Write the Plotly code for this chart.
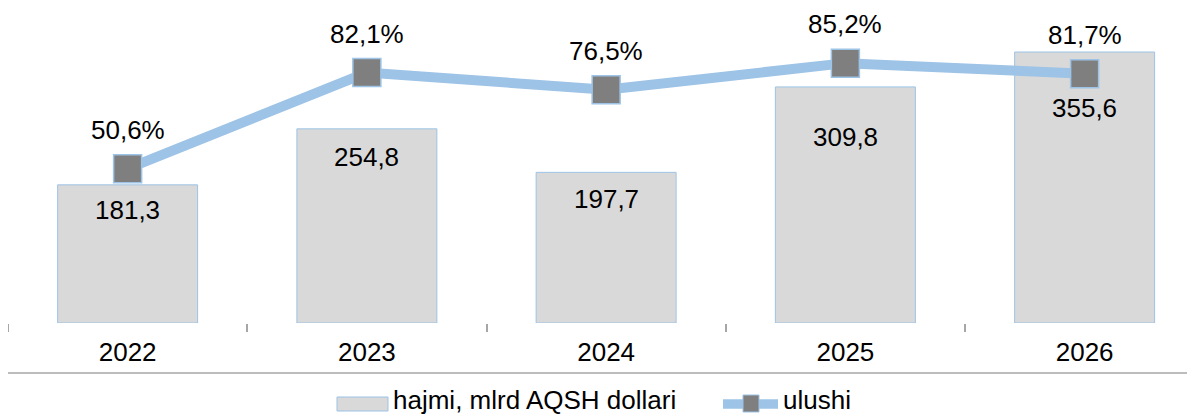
import plotly.graph_objects as go

years = ["2022", "2023", "2024", "2025", "2026"]
volume = [181.3, 254.8, 197.7, 309.8, 355.6]
share = [50.6, 82.1, 76.5, 85.2, 81.7]

# label offsets (px) below bar tops, Excel nudged them around the markers
bar_label_shift = [-25, -28, -27, -50, -56]

FONT = "Liberation Sans, Arial, sans-serif"
BLUE = "#9dc3e6"
GREY_BAR = "#d9d9d9"
GREY_MK = "#7f7f7f"
FS = 26

# the html body has an 8px margin, so the figure is drawn 8px smaller
W, H = 1187, 408
PLOT_H = 313


def fmt(v):
    return f"{v:.1f}".replace(".", ",")


def px(sx):  # screen x -> paper
    return (sx - 8) / W


def py(sy):  # screen y -> paper (plot spans screen y 10..323)
    return (323 - sy) / PLOT_H


fig = go.Figure()
fig.add_trace(go.Bar(
    x=years, y=volume, name="hajmi, mlrd AQSH dollari",
    marker=dict(color=GREY_BAR, line=dict(color=BLUE, width=1)),
    width=0.585,
))
fig.add_trace(go.Scatter(
    x=years, y=share, name="ulushi", yaxis="y2",
    mode="lines+markers",
    line=dict(color=BLUE, width=10),
    marker=dict(symbol="square", size=28, color=GREY_MK,
                line=dict(color=BLUE, width=1.5)),
))

# category axis: annotations need the serial index, not the label
for i, (v, dy) in enumerate(zip(volume, bar_label_shift)):
    fig.add_annotation(x=i, y=v, xref="x", yref="y", text=fmt(v), showarrow=False,
                       yshift=dy, font=dict(size=FS, color="#000000"))
for i, p in enumerate(share):
    fig.add_annotation(x=i, y=p, xref="x", yref="y2", text=fmt(p) + "%", showarrow=False,
                       yshift=39, font=dict(size=FS, color="#000000"))

# bottom rule under the category labels
fig.add_shape(type="line", xref="paper", yref="paper", x0=0, x1=1,
              y0=py(373), y1=py(373), line=dict(color="#a6a6a6", width=1.5))

# hand-drawn legend (Excel style wide swatches)
fig.add_shape(type="rect", xref="paper", yref="paper",
              x0=px(337), x1=px(388), y0=py(411), y1=py(397),
              fillcolor=GREY_BAR, line=dict(color=BLUE, width=1))
fig.add_annotation(xref="paper", yref="paper", x=px(392), y=py(416),
                   xanchor="left", yanchor="bottom", showarrow=False, borderpad=0,
                   text="hajmi, mlrd AQSH dollari", font=dict(size=FS))
fig.add_shape(type="line", xref="paper", yref="paper",
              x0=px(723), x1=px(778), y0=py(404), y1=py(404),
              line=dict(color=BLUE, width=9.5))
fig.add_shape(type="rect", xref="paper", yref="paper",
              x0=px(743), x1=px(759), y0=py(412), y1=py(395),
              fillcolor=GREY_MK, line=dict(color=BLUE, width=1))
fig.add_annotation(xref="paper", yref="paper", x=px(782), y=py(416),
                   xanchor="left", yanchor="bottom", showarrow=False, borderpad=0,
                   text="ulushi", font=dict(size=FS))

fig.update_layout(
    width=W, height=H,
    margin=dict(l=0, r=0, t=2, b=H - 2 - PLOT_H, autoexpand=False),
    paper_bgcolor="white", plot_bgcolor="white",
    font=dict(family=FONT, size=FS, color="#000000"),
    showlegend=False,
    xaxis=dict(type="category", range=[-0.5, -0.5 + W / 239.25], tickson="boundaries",
               ticks="outside", ticklen=8, tickcolor="#a6a6a6", tickwidth=1.5,
               ticklabelstandoff=11,
               showline=False, showgrid=False, tickfont=dict(size=FS), automargin=False),
    yaxis=dict(range=[0, PLOT_H / 0.762], visible=False, showgrid=False),
    yaxis2=dict(range=[0, PLOT_H / 3.05], overlaying="y", visible=False, showgrid=False),
)

fig.write_html("out.html")
